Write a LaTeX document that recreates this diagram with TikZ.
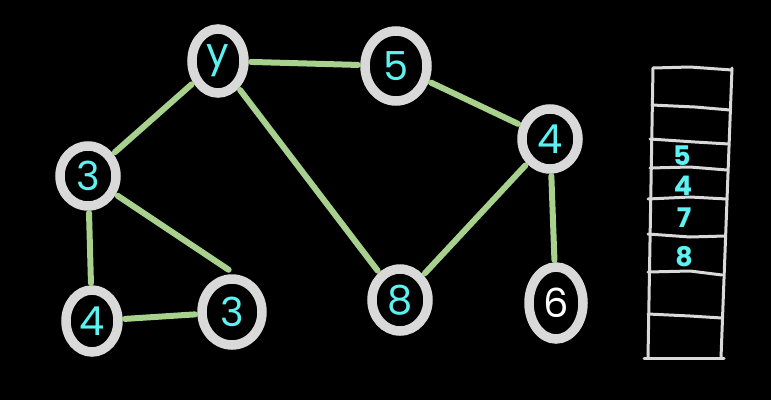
\documentclass[tikz,border=0pt]{standalone}
\usepackage{fontspec}
\setmainfont{Poppins}
\usetikzlibrary{shapes.geometric}
\definecolor{ringgrey}{HTML}{D9D9D9}
\definecolor{edgegreen}{HTML}{A9D18E}
\definecolor{scribble}{HTML}{5CF2F2}
\tikzset{
  vert/.style={ellipse, draw=ringgrey, line width=9.5pt, fill=black,
    inner sep=0pt, outer sep=7pt, text=scribble, font=\fontsize{40}{40}\selectfont},
  link/.style={draw=edgegreen, line width=6pt, line cap=round},
  stackline/.style={draw=ringgrey, line width=3pt, line cap=round},
  stacknum/.style={text=scribble, font=\fontsize{27}{27}\selectfont\bfseries, inner sep=0pt}
}
\begin{document}
\begin{tikzpicture}[x=1pt,y=-1pt]
\fill[black] (0,0) rectangle (771,400);
\useasboundingbox (0,0) rectangle (771,400);
% vertices
\node[vert, minimum width=52pt, minimum height=64pt] (A) at (218,61) {y};
\node[vert, minimum width=62pt, minimum height=70pt] (B) at (396,66) {5};
\node[vert, minimum width=56pt, minimum height=60pt] (C) at (550,139) {4};
\node[vert, minimum width=56pt, minimum height=60pt] (D) at (88,176) {3};
\node[vert, minimum width=52pt, minimum height=62pt] (E) at (92,321) {4};
\node[vert, minimum width=60pt, minimum height=66pt] (F) at (232,312) {3};
\node[vert, minimum width=56pt, minimum height=62pt] (G) at (400,300) {8};
\node[vert, minimum width=54pt, minimum height=72pt, text=white] (H) at (556,303) {6};
% edges
\draw[link] (A) -- (B);
\draw[link] (A) -- (D);
\draw[link] (A) -- (G);
\draw[link] (B) -- (C);
\draw[link] (C) -- (G);
\draw[link] (C) -- (H);
\draw[link] (D) -- (E);
\draw[link, shorten >=4pt] (D) -- (F.north);
\draw[link] (E) -- (F);
% stack
\draw[stackline] (653,68) -- (648,358);
\draw[stackline] (732,68) -- (721,358);
\draw[stackline] (653,68) -- (690,67) -- (732,70);
\draw[stackline] (652,105) -- (695,107) -- (730,110);
\draw[stackline] (650,139) -- (695,142) -- (729,144);
\draw[stackline] (650,168) -- (690,167) -- (727,170);
\draw[stackline] (648,199) -- (690,197) -- (727,199);
\draw[stackline] (648,234) -- (690,237) -- (725,236);
\draw[stackline] (648,272) -- (690,271) -- (722,275);
\draw[stackline] (648,314) -- (690,316) -- (722,318);
\draw[stackline] (644,358) -- (690,358) -- (724,358);
\node[stacknum] (s5) at (682,156) {5};
\node[stacknum] (s4) at (683,186) {4};
\node[stacknum] (s7) at (684,218) {7};
\node[stacknum] (s8) at (684,257) {8};
\end{tikzpicture}
\end{document}
